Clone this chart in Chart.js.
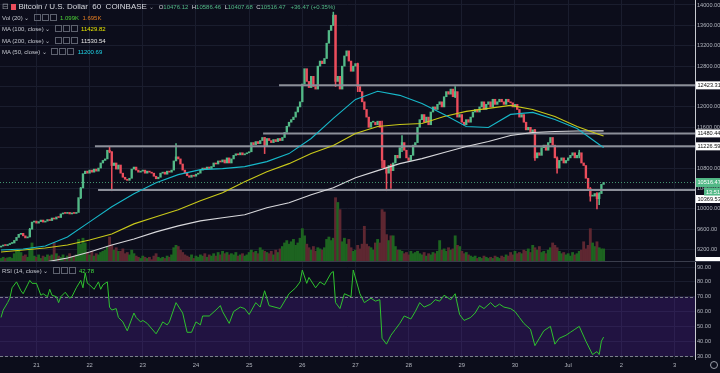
<!DOCTYPE html>
<html><head><meta charset="utf-8">
<script src="https://cdn.jsdelivr.net/npm/chart.js@4"></script>
<style>
html,body{margin:0;padding:0;background:#0c0d1b;width:720px;height:373px;overflow:hidden;font-family:"Liberation Sans",Arial,sans-serif;}
#p{position:absolute;left:0;top:0;width:720px;height:262px;}
#r{position:absolute;left:0;top:262px;width:720px;height:111px;}
.leg{position:absolute;left:2px;font-size:6px;color:#c3c6ce;white-space:nowrap;line-height:8px;}
.ic{display:inline-block;width:5px;height:5px;border:1px solid #5d616e;margin-left:1px;vertical-align:-1px;}
.g{color:#53b987}.w{color:#d6d8de}
#reset{position:absolute;left:710px;top:361px;width:6px;height:6px;border:1px solid #9a9da8;border-radius:50%;}
</style></head>
<body>
<div id="p"><canvas id="cp"></canvas></div>
<div id="r"><canvas id="cr"></canvas></div>
<div class="leg" style="top:2px;font-size:8px;line-height:9px;"><span style="color:#9598a1">&#8863;</span> <span style="display:inline-block;width:5px;height:6px;background:#eb4d5c;vertical-align:-1px"></span> <span class="w">Bitcoin / U.S. Dollar&nbsp; 60&nbsp; COINBASE</span> <span style="color:#9598a1;font-size:6px">&#8964;</span>&nbsp;&nbsp;<span style="font-size:6px"><span class="w">O</span><span class="g">10476.12</span>&nbsp; <span class="w">H</span><span class="g">10586.46</span>&nbsp; <span class="w">L</span><span class="g">10407.68</span>&nbsp; <span class="w">C</span><span class="g">10516.47</span>&nbsp;&nbsp; <span class="g">+36.47 (+0.35%)</span></span></div>
<div class="leg" style="top:14px">Vol (20) &#8964; &nbsp;<span class="ic"></span><span class="ic"></span><span class="ic"></span>&nbsp; <span style="color:#4cd137">1.099K</span>&nbsp; <span style="color:#e67e22">1.695K</span></div>
<div class="leg" style="top:25px">MA (100, close) &#8964; &nbsp;<span class="ic"></span><span class="ic"></span><span class="ic"></span>&nbsp; <span style="color:#e5e500">11429.82</span></div>
<div class="leg" style="top:37px">MA (200, close) &#8964; &nbsp;<span class="ic"></span><span class="ic"></span><span class="ic"></span>&nbsp; <span style="color:#e8e8e8">11530.54</span></div>
<div class="leg" style="top:48px">MA (50, close) &#8964; &nbsp;<span class="ic"></span><span class="ic"></span><span class="ic"></span>&nbsp; <span style="color:#1fd3e6">11200.69</span></div>
<div class="leg" style="top:267px">RSI (14, close) &#8964; &nbsp;<span class="ic"></span><span class="ic"></span><span class="ic"></span>&nbsp; <span style="color:#3fdc3f">42.78</span></div>
<div id="reset"></div>
<script>
// ---------- DATA ----------
const firstHour = 8;          // candle 0 = 20 Jun 08:00, one candle per hour
const firstOpen = 9250;
const closes = [
 9270,9290,9280,9300,9320,9330, 9380,9440,9500,9520, 9470,9430,9450, 9600,9740,
 9760,9720,9750,9780,9740,9760,9790,9770, 9820,9800,9840,9830,
 9900,9920,9910,9930,9900,9920,9910,9930, 10220,10410,10690,10740,
 10700,10760,10720,10780,10740,10800, 10900,10950,10980, 11150,11120,
 10850,10900,10780,10860, 10700,10620,10580,10560,10600, 10780,10820,10760,
 10720,10740,10760,10700,10740,10720,10700, 10640,10590,10620,
 10700,10720,10680,10740,10720,10760, 10940,11020,10980, 10880,10760,10700,
 10650,10620,10660,10640,10680,10700, 10760,10800,10780,10820,10790,10830,
 10900,10880,10940,10920,10960,10900, 11000,10900,10980, 11050,11080,11060,
 11100,11060,11080,11100,11120, 11300,11260,11320,11280,11340, 11400,11240,11380,
 11340,11300,11360,11320,11380,11340,11400,
 11500,11620,11700,11750,11800,11900,12000,12100,
 12450,12750,12500,12380, 12600,12400,12350, 12800,12900,12850,12950,
 13250,13500,13600,13800,12500, 12600,12350, 12800,13000,13100,
 12900,12700,12800,12850,12400, 12300,12100,11950,
 11800,11600,11700,11700,11650,11720,11600, 10950,10800,10700,10850,10750,
 10900,11050,11000, 11200,11300,11150,11000,10950,11050,
 11250,11300,11600,11750,11850,11700,11800,11650,
 11900,12000,11950,12050,12100,12000, 12200,12300,12250,12350,12200,12300,
 11800,11850,11700,11650,11750,11700,11800, 11900,11950,11900,
 12000,12100,11950,12050, 12100,12000,12150,12050,12100,
 12150,12100,12050,12150,12100,12080, 12000,12050,11950,
 11800,11850,11700,11550,11600,11500,11550, 11000,11100,11050,
 11200,11250,11150,11300,11400,11250, 11000,10800,10950,11000,10900,10950,
 11000,11050,11100,11000,11050,11100, 10900,10850,10600,10400,10250,
 10250,10300,10200,10300,10480,10516.47
];
// notable wicks: candle index, low, high
const wickIdx  = [13,   36,    49,    50,    79,    119,   150,   151,   161,   172,   174,   176,   181,   205,   241,   251,   261,   266,   269,   270];
const wickLow  = [9450, 10200, 11100, 10355, 10960, 11084, 13600, 12400, 12300, 10809, 10355, 10400, 11120, 12180, 10950, 10700, 11000, 10150, 10000, 10080];
const wickHigh = [9620, 10420, 11222, 11120, 11280, 11400, 13860, 13800, 12860, 11720, 10820, 10880, 11439, 12400, 11560, 11020, 11150, 10420, 10320, 10320];
// volume, thousands
const volume = [
 0.3,0.4,0.3,0.35,0.4,0.3, 0.7,0.9,1.0,0.8, 0.5,0.6,0.4, 1.1,1.6,
 0.5,0.4,0.6,0.3,0.5,0.4,0.6,0.5, 0.6,1.6,0.7,0.5,
 0.4,0.6,0.3,0.5,0.7,0.4,0.5,0.6, 1.9,1.5,2.0,1.6,
 0.8,0.6,0.9,0.5,0.7,0.6, 0.8,0.9,1.0, 1.3,2.1,
 1.4,1.0,1.2,0.9, 0.9,1.1,0.7,0.8,0.6, 1.0,0.7,0.5,
 0.4,0.3,0.5,0.4,0.3,0.4,0.2, 0.5,0.7,0.4,
 0.3,0.4,0.3,0.5,0.4,0.6, 1.2,1.4,1.3, 1.0,0.8,0.6,
 0.5,0.4,0.6,0.3,0.5,0.4, 0.6,0.5,0.7,0.4,0.6,0.5,
 0.7,0.5,0.8,0.6,0.9,0.7, 0.8,0.6,0.7, 0.6,0.8,0.5,
 0.6,0.7,0.5,0.6,0.8, 1.0,0.8,0.9,0.7,1.2, 1.0,0.9,0.8,
 0.7,0.9,0.6,1.0,0.8,1.1,1.3,
 1.6,1.8,1.5,1.7,1.9,1.4,1.6,2.0,
 2.8,2.2,1.5,1.2, 1.0,1.3,0.9, 1.2,1.1,1.0,1.2,
 1.9,2.1,1.8,2.0,5.4, 5.0,4.4, 1.7,2.0,1.5,
 1.9,1.2,0.9,1.0,1.4, 1.1,1.5,3.0,
 1.5,1.3,1.2,1.0,1.6,1.9,1.6, 4.4,4.2,2.3,1.8,2.2,
 2.2,1.3,1.0, 1.0,0.9,0.7,0.8,0.6,0.9,
 0.7,0.8,0.9,0.7,0.6,0.8,0.5,0.7,
 0.6,0.8,0.7,0.9,1.8,1.0, 1.1,0.9,1.2,1.0,1.1,2.2,
 1.4,1.3,0.9,0.7,0.8,0.6,0.5, 0.4,0.5,0.3,
 0.4,0.3,0.5,0.4, 0.3,0.4,0.3,0.5,0.4,
 0.3,0.5,0.4,0.6,0.5,0.8, 0.6,0.9,0.7,
 0.8,0.7,1.0,0.9,1.1,0.8,1.4, 1.2,1.0,1.3,
 0.8,0.9,0.7,1.0,1.2,1.6, 1.4,1.2,0.9,0.7,0.8,0.6,
 0.7,0.5,0.8,0.6,0.7,0.9, 1.0,1.7,1.1,1.4,2.8,
 1.6,1.3,1.7,1.2,1.1,1.099
];
// moving averages sampled at candle indices
const maIdx = [0,10,20,30,40,50,60,70,80,90,100,110,120,130,140,150,160,170,180,190,200,210,220,230,240,250,260,270,272];
const ma50  = [9193,9213,9272,9449,9745,10040,10296,10513,10671,10769,10789,10828,10927,11084,11380,11774,12148,12306,12227,12069,11853,11616,11597,11853,11892,11754,11577,11262,11200.69];
const ma100 = [9154,9193,9233,9292,9390,9508,9705,9843,9981,10158,10316,10533,10730,10887,11084,11242,11478,11616,11655,11675,11813,11912,11971,12030,11951,11813,11616,11459,11429.82];
const ma200 = [8830,8880,8957,9036,9154,9292,9410,9548,9666,9764,9824,9883,10021,10119,10277,10415,10611,10750,10887,10986,11104,11222,11321,11439,11498,11518,11528,11530,11530.54];
// RSI (14) read at candle indices
const rsiIdx = [0,1,3,4,5,7,9,10,12,13,14,16,18,19,21,22,23,25,26,27,29,31,32,34,36,37,38,39,40,42,44,45,46,48,49,50,52,53,55,57,60,61,63,64,66,70,72,73,75,76,79,82,84,86,88,90,91,94,97,99,100,103,105,108,
 110,112,115,117,119,121,126,130,133,135,136,138,139,142,144,146,149,150,151,153,155,158,159,162,164,167,169,171,172,174,176,178,180,182,185,187,189,191,194,196,198,200,203,205,207,209,212,214,216,218,221,223,225,227,230,232,234,236,239,241,243,245,248,250,252,255,257,259,261,264,266,267,269,270,271,272];
const rsiVal = [56,61,66,69,76,80,74,72,78,81,79,79,71,72,70,75,71,70,66,70,73,69,70,76,81,76,86,79,78,75,80,75,78,80,63,61,62,56,53,47,59,56,53,54,52,45,50,53,51,53,66,59,46,46,53,51,57,57,61,64,60,52,60,63,
 62,58,66,63,74,64,62,72,76,80,88,79,83,76,80,78,86,87,66,62,72,70,88,72,66,69,67,68,42,38,44,48,52,57,55,60,66,63,65,68,67,71,68,72,58,54,56,59,64,62,66,63,65,63,62,60,56,52,48,37,42,47,50,38,42,44,46,48,50,40,34,31,33,31,40,42.78];
// horizontal levels drawn on the chart and the hour each one starts
const levels      = [12423.31, 11480.44, 11226.59, 10369.53];
const levelStartH = [133.5, 126.3, 50.4, 51.8];
const lastPrice = 10516.47;
// axes ticks
const priceTicks = [9200,9600,10000,10400,10800,11200,11600,12000,12400,12800,13200,13600,14000];
const rsiTicks = [30,40,50,60,70,80,90];
const dayTickHours = [24,48,72,96,120,144,168,192,216,240,264,288,312];
const dayLabels = ['21','22','23','24','25','26','27','28','29','30','Jul','2','3'];

// ---------- BUILD ----------
const UP='#53b987', DN='#eb4d5c', GRID='#1a1d2e', TXT='#b2b5be';
const X_MIN=7.55, X_MAX=321.25;
const hours = closes.map((c,i)=>firstHour+i);
const opens = closes.map((c,i)=> i===0 ? firstOpen : closes[i-1]);
const isUp = closes.map((c,i)=> c>=opens[i]);
const bodies = closes.map((c,i)=>({x:hours[i], y:[opens[i], c]}));
const wicks = wickIdx.map((k,j)=>({x:hours[k], y:[wickLow[j], wickHigh[j]]}));
const wickCols = wickIdx.map(k=> isUp[k]?UP:DN);
const vols = volume.map((v,i)=>({x:hours[i], y:v}));
const maPts = arr => arr.map((v,j)=>({x:firstHour+maIdx[j], y:v}));

const xCommon = {
  type:'linear', min:X_MIN, max:X_MAX, offset:false,
  afterBuildTicks: s=>{ s.ticks = dayTickHours.map(v=>({value:v})); },
  grid:{color:GRID, drawTicks:false, offset:false}, border:{display:false}
};
const noPad = s=>{ s.paddingTop=0; s.paddingBottom=0; s.paddingLeft=0; s.paddingRight=0; };

const boxPlugin = {
  id:'boxes',
  afterDraw(chart){
    const {ctx, scales:{y}} = chart;
    ctx.save();
    ctx.font = '5.6px "Liberation Sans"';
    ctx.textBaseline = 'middle';
    const shift = [0,0,0,9];
    levels.forEach((v,k)=>{
      const py = y.getPixelForValue(v)+shift[k];
      ctx.fillStyle='#ffffff'; ctx.fillRect(696, py-4, 24, 8);
      ctx.fillStyle='#111'; ctx.fillText(v.toFixed(2), 697.5, py+0.5);
    });
    const pp = y.getPixelForValue(lastPrice);
    ctx.fillStyle=UP; ctx.fillRect(696, pp-4.5, 24, 9);
    ctx.fillStyle='#fff'; ctx.fillText(lastPrice.toFixed(2), 697.5, pp);
    ctx.fillStyle=UP; ctx.fillRect(704, pp+5, 16, 8);
    ctx.fillStyle='#fff'; ctx.fillText('13:51', 706, pp+9.5);
    ctx.fillStyle='#ffffff'; ctx.fillRect(696, 257, 24, 5);
    ctx.fillStyle='#3a3d4c'; ctx.fillRect(0, 261, 720, 1);
    ctx.restore();
  }
};

new Chart(document.getElementById('cp'), {
  type:'bar',
  data:{datasets:[
    {type:'line', data:[{x:X_MIN,y:lastPrice},{x:X_MAX,y:lastPrice}], borderColor:'rgba(83,185,135,0.8)', borderWidth:1, borderDash:[1,2], pointRadius:0, order:1},
    {type:'line', data:maPts(ma50),  borderColor:'#17b8c9', borderWidth:1.1, pointRadius:0, order:2},
    {type:'line', data:maPts(ma100), borderColor:'#c9c91a', borderWidth:1.1, pointRadius:0, order:2},
    {type:'line', data:maPts(ma200), borderColor:'#d8d8dc', borderWidth:1.1, pointRadius:0, order:2},
    ...levels.map((v,k)=>({type:'line', data:[{x:levelStartH[k],y:v},{x:X_MAX,y:v}], borderColor:'#8c8f99', borderWidth:2, pointRadius:0, order:3})),
    {data:bodies, backgroundColor:isUp.map(u=>u?UP:DN), barThickness:1.7, minBarLength:1, grouped:false, order:4},
    {data:wicks, backgroundColor:wickCols, barThickness:0.9, grouped:false, order:5},
    {data:vols, yAxisID:'yv', backgroundColor:isUp.map(u=>u?'#1d6420':'#5e2731'), barThickness:2.2, grouped:false, order:9}
  ]},
  options:{
    responsive:true, maintainAspectRatio:false, animation:false,
    layout:{padding:0},
    plugins:{legend:{display:false}, tooltip:{enabled:false}},
    scales:{
      x:{...xCommon, ticks:{display:false}, afterFit:s=>{s.height=0; noPad(s);}},
      y:{position:'right', min:8957, max:14098,
         afterBuildTicks:s=>{ s.ticks = priceTicks.map(v=>({value:v})); },
         ticks:{color:TXT, font:{size:5.6, family:'Liberation Sans'}, padding:2, callback:v=>Number(v).toFixed(2)},
         grid:{color:GRID, drawTicks:false}, border:{color:'#c8cad0', width:1},
         afterFit:s=>{s.width=25; noPad(s);}},
      yv:{display:false, min:0, max:22}
    }
  },
  plugins:[boxPlugin]
});

const bandPlugin = {
  id:'band',
  beforeDatasetsDraw(chart){
    const {ctx, chartArea:a, scales:{y}} = chart;
    const y70=y.getPixelForValue(70), y30=y.getPixelForValue(30);
    ctx.save();
    ctx.fillStyle='rgba(110,40,200,0.22)';
    ctx.fillRect(a.left, y70, a.right-a.left, y30-y70);
    ctx.strokeStyle='#7b7e8c'; ctx.lineWidth=1; ctx.setLineDash([3,2]);
    [y70,y30].forEach(py=>{ ctx.beginPath(); ctx.moveTo(a.left, Math.round(py)+0.5); ctx.lineTo(a.right, Math.round(py)+0.5); ctx.stroke(); });
    ctx.restore();
  }
};

new Chart(document.getElementById('cr'), {
  type:'line',
  data:{datasets:[
    {data:rsiIdx.map((k,j)=>({x:firstHour+k, y:rsiVal[j]})), borderColor:'#2fc22f', borderWidth:1, pointRadius:0}
  ]},
  options:{
    responsive:true, maintainAspectRatio:false, animation:false,
    layout:{padding:0},
    plugins:{legend:{display:false}, tooltip:{enabled:false}},
    scales:{
      x:{...xCommon,
         ticks:{color:TXT, font:{size:5.8, family:'Liberation Sans'}, padding:3, maxRotation:0, autoSkip:false,
                callback:(v)=>{ const k=dayTickHours.indexOf(v); return k>=0?dayLabels[k]:''; }},
         afterFit:s=>{s.height=14; noPad(s);}},
      y:{position:'right', min:28, max:93.4,
         afterBuildTicks:s=>{ s.ticks = rsiTicks.map(v=>({value:v})); },
         ticks:{color:TXT, font:{size:5.6, family:'Liberation Sans'}, padding:2, callback:v=>Number(v).toFixed(2)},
         grid:{color:GRID, drawTicks:false}, border:{color:'#c8cad0', width:1},
         afterFit:s=>{s.width=25; noPad(s);}}
    }
  },
  plugins:[bandPlugin]
});
</script>
</body></html>
